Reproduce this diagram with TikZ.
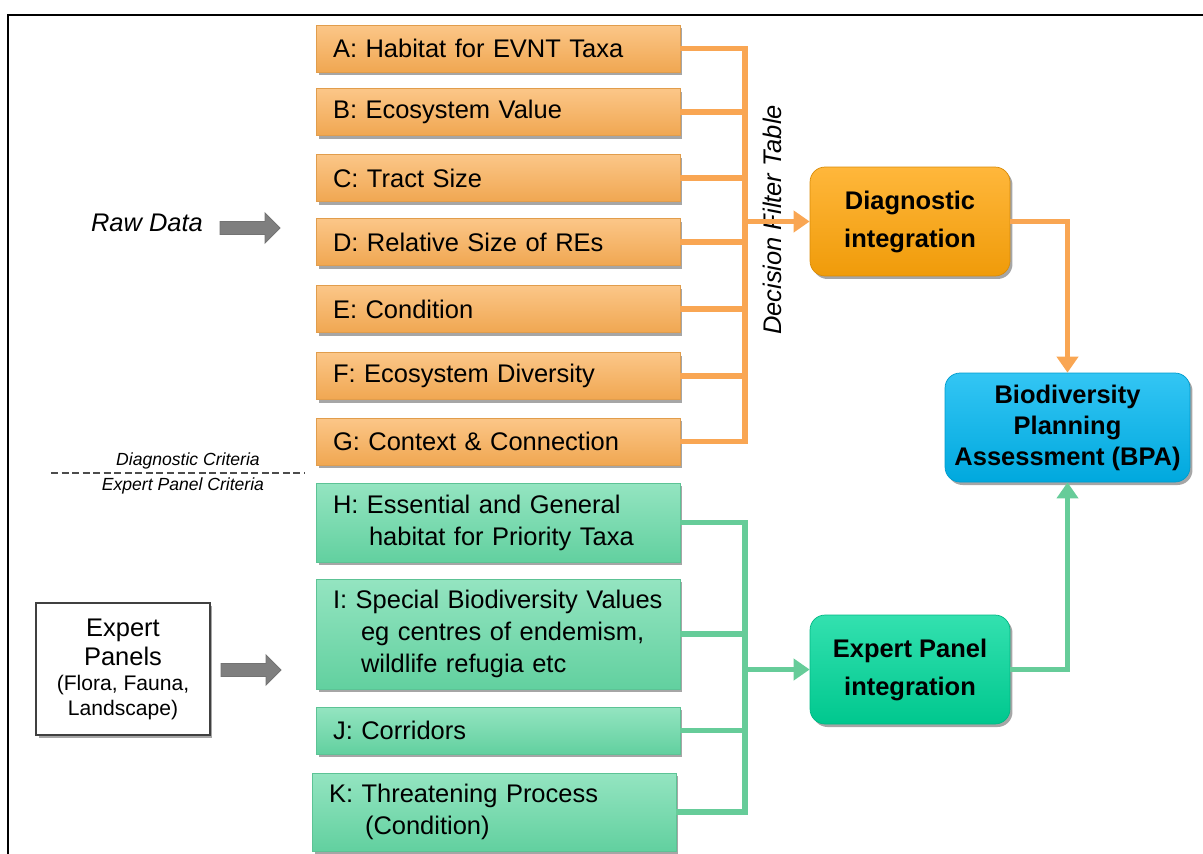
\documentclass[tikz,border=0pt]{standalone}
\usepackage{fontspec}
\setmainfont{Liberation Sans}
\usetikzlibrary{arrows.meta,shadows}

\definecolor{critorange}{HTML}{FAAE55}
\definecolor{critgreen}{HTML}{66D9A6}
\definecolor{lineorange}{HTML}{F9A653}
\definecolor{linegreen}{HTML}{66CC99}
\definecolor{diagfill}{HTML}{FFA50A}
\definecolor{bpafill}{HTML}{00B7F1}
\definecolor{epifill}{HTML}{00D99B}
\definecolor{arrowgray}{HTML}{7F7F7F}

\tikzset{
  boxshadow/.style={drop shadow={shadow xshift=0.05cm, shadow yshift=-0.06cm, opacity=0.35, fill=black}},
  crit/.style={rectangle, text width=6.6cm, inner xsep=0.34cm, inner ysep=0pt, minimum height=0.94cm,
    align=left, font=\fontsize{14.5}{18.2}\selectfont, boxshadow},
  diagcrit/.style={crit, top color=critorange!70!white, bottom color=critorange!96!black, draw=critorange!90!black, line width=0.3pt},
  expcrit/.style={crit, top color=critgreen!70!white, bottom color=critgreen!96!black, draw=critgreen!90!black, line width=0.3pt},
  integ/.style={rectangle, rounded corners=0.3cm, minimum width=4cm, minimum height=2.18cm, align=center,
    font=\bfseries\fontsize{14.5}{21.6}\selectfont, boxshadow},
  oline/.style={lineorange, line width=0.11cm},
  gline/.style={linegreen, line width=0.11cm},
  tip/.style={-{Triangle[length=0.32cm,width=0.42cm]}},
  smalllab/.style={font=\itshape\fontsize{10}{12}\selectfont, inner sep=0pt},
  grayarrow/.style={fill=arrowgray, draw=black!55, line width=0.5pt}
}

\begin{document}
\begin{tikzpicture}[x=0.02cm,y=-0.02cm]
  \useasboundingbox (0,0) rectangle (1203,853);
  % outer frame
  \draw[line width=0.8pt] (8,15) rectangle (1240,890);

  % diagnostic criteria
  \node[diagcrit] (A) at (498,48.5) {A: Habitat for EVNT Taxa};
  \node[diagcrit] (B) at (498,112) {B: Ecosystem Value};
  \node[diagcrit] (C) at (498,178) {C: Tract Size};
  \node[diagcrit] (D) at (498,242) {D: Relative Size of REs};
  \node[diagcrit] (E) at (498,309) {E: Condition};
  \node[diagcrit] (F) at (498,376) {F: Ecosystem Diversity};
  \node[diagcrit] (G) at (498,441.5) {G: Context \& Connection};

  % expert panel criteria
  \node[expcrit, minimum height=1.58cm] (H) at (498,522.5) {H: Essential and General\\\hspace*{0.72cm}habitat for Priority Taxa};
  \node[expcrit, minimum height=2.2cm] (I) at (498,634) {I: Special Biodiversity Values\\\hspace*{0.56cm}eg centres of endemism,\\\hspace*{0.56cm}wildlife refugia etc};
  \node[expcrit] (J) at (498,730.5) {J: Corridors};
  \node[expcrit, minimum height=1.56cm] (K) at (494,812) {K: Threatening Process\\\hspace*{0.72cm}(Condition)};

  % integration boxes
  \node[integ, top color=diagfill!80!white, bottom color=diagfill!94!black, draw=diagfill!85!black] (diag) at (910,221.5) {Diagnostic\\integration};
  \node[integ, top color=epifill!80!white, bottom color=epifill!92!black, draw=epifill!85!black] (epi) at (910,669.5) {Expert Panel\\integration};
  \node[integ, minimum width=4.9cm, font=\bfseries\fontsize{14.5}{17.6}\selectfont,
        top color=bpafill!80!white, bottom color=bpafill!92!black, draw=bpafill!85!black] (bpa) at (1067.5,427.5) {Biodiversity\\Planning\\Assessment (BPA)};

  % inputs
  \node[font=\itshape\fontsize{14.5}{17}\selectfont] (raw) at (147,223) {Raw Data};
  \node[rectangle, draw=black!75, line width=1pt, fill=white, minimum width=3.48cm, minimum height=2.64cm,
        align=center, font=\fontsize{14.5}{17}\selectfont, boxshadow] (panels) at (123,669)
        {Expert\\Panels\\[-3pt]{\fontsize{12}{14}\selectfont(Flora, Fauna,}\\[-3pt]{\fontsize{12}{14}\selectfont Landscape)}};
  \fill[grayarrow] (220,221.5) -- (265,221.5) -- (265,213) -- (280,228) -- (265,243) -- (265,234.5) -- (220,234.5) -- cycle;
  \fill[grayarrow] (221,663.5) -- (266,663.5) -- (266,655) -- (281,670) -- (266,685) -- (266,676.5) -- (221,676.5) -- cycle;

  % criteria divider
  \draw[dashed, black!70, line width=0.6pt, dash pattern=on 4pt off 2pt] (51,473) -- (305,473);
  \node[smalllab] (dlab) at (188,461) {Diagnostic Criteria};
  \node[smalllab] (elab) at (183,486) {Expert Panel Criteria};

  % decision filter table
  \node[rotate=90, font=\itshape\fontsize{14.5}{17}\selectfont] (dft) at (772,220) {Decision Filter Table};

  % orange connectors
  \coordinate (dbus) at (745,0);
  \draw[oline] (A.east) -| (G.east -| dbus) -- (G.east);
  \foreach \n in {B,C,D,E,F}
    \draw[oline] (\n.east) -- (\n.east -| dbus);
  \draw[oline, tip] (dbus |- diag.west) -- (diag.west);
  \draw[oline, tip] (diag.east) -| (bpa.north);

  % green connectors
  \coordinate (gbus) at (745,0);
  \draw[gline] (H.east) -| (K.east -| gbus) -- (K.east);
  \foreach \n in {I,J}
    \draw[gline] (\n.east) -- (\n.east -| gbus);
  \draw[gline, tip] (gbus |- epi.west) -- (epi.west);
  \draw[gline, tip] (epi.east) -| (bpa.south);
\end{tikzpicture}
\end{document}
